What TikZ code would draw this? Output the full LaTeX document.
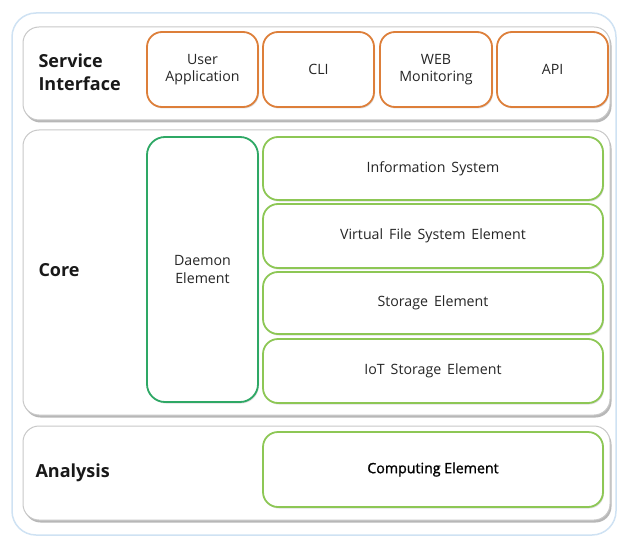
\documentclass[tikz,border=0pt]{standalone}
\usepackage{fontspec}
\setmainfont{Open Sans}
\newfontfamily\semibfont[FakeBold=1.2]{Open Sans}
\usetikzlibrary{shadows}
\definecolor{orangeb}{HTML}{DD7F3A}
\definecolor{dgreen}{HTML}{2EA865}
\definecolor{lgreen}{HTML}{8DC755}
\definecolor{frameblue}{HTML}{CFE2F3}
\definecolor{bandgray}{HTML}{C8C8C8}
\definecolor{txt}{HTML}{262626}
\newcommand{\myboxfont}{\fontsize{14.2}{17.5}\selectfont\spaceskip=0.42em\relax}
\tikzset{
  band/.style={draw=bandgray, line width=1pt, fill=white, rounded corners=16pt,
    drop shadow={shadow xshift=1.5pt, shadow yshift=-2.5pt, fill=black!35, opacity=0.8}},
  svcbox/.style={draw=orangeb, line width=1.8pt, fill=white, rounded corners=15pt,
    minimum width=111pt, minimum height=75pt, align=center, font=\myboxfont, text=txt,
    drop shadow={shadow xshift=1pt, shadow yshift=-1.5pt, fill=black!25}},
  corebox/.style={draw=lgreen, line width=1.8pt, fill=white, rounded corners=15pt,
    minimum width=340pt, align=center, font=\myboxfont, text=txt,
    drop shadow={shadow xshift=1pt, shadow yshift=-1.5pt, fill=black!25}},
  daemonbox/.style={draw=dgreen, line width=1.8pt, fill=white, rounded corners=18pt,
    minimum width=111pt, minimum height=265pt, align=center, font=\myboxfont, text=txt,
    drop shadow={shadow xshift=1pt, shadow yshift=-1.5pt, fill=black!25}},
  bandlabel/.style={anchor=west, align=left, font=\bfseries\fontsize{18}{23}\selectfont, text=black!90},
}
\begin{document}
\begin{tikzpicture}[x=1pt,y=-1pt]
\useasboundingbox (0,0) rectangle (617,537);
% outer frame
\draw[frameblue, line width=1.5pt, fill=white, rounded corners=24pt] (12,13) rectangle (616,535);
% bands
\path[band] (23,27) rectangle (610,120);
\path[band] (23,130) rectangle (610,415);
\path[band] (23,426) rectangle (610,520);
% band labels
\node[bandlabel] (lsi) at (35,72) {Service\\Interface};
\node[bandlabel] (lcore) at (35,270) {Core};
\node[bandlabel] (lan) at (32,473) {Analysis};
% service interface boxes
\node[svcbox] (ua) at (202.5,69.5) {User\\Application};
\node[svcbox] (cli) at (318.5,69.5) {CLI};
\node[svcbox, minimum width=112pt] (web) at (436,69.5) {WEB\\Monitoring};
\node[svcbox] (api) at (552.5,69.5) {API};
% core
\node[daemonbox] (dae) at (202.5,269.5) {Daemon\\Element};
\node[corebox, minimum height=63pt] (is) at (433,168.5) {Information System};
\node[corebox, minimum height=64pt] (vfs) at (433,236) {Virtual File System Element};
\node[corebox, minimum height=62pt] (se) at (433,303) {Storage Element};
\node[corebox, minimum height=64pt] (iot) at (433,371) {IoT Storage Element};
% analysis
\node[corebox, minimum height=75pt, font={\semibfont\fontsize{14.2}{17.5}\selectfont}, text=black] (ce) at (433,469.5) {Computing Element};
\end{tikzpicture}
\end{document}
